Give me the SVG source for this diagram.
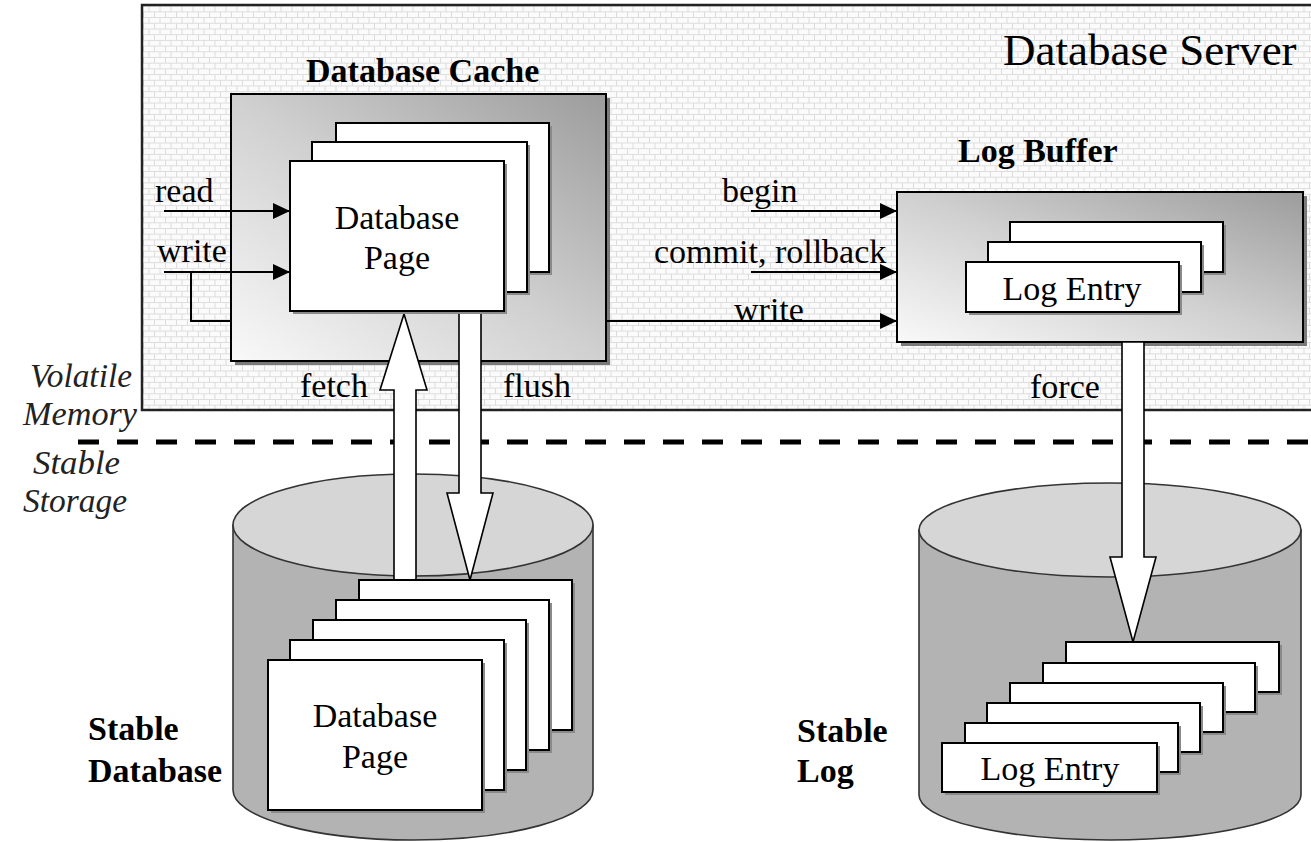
<svg xmlns="http://www.w3.org/2000/svg" width="1311" height="842" viewBox="0 0 1311 842">
<style>
  text { font-family: "Liberation Serif", "Times New Roman", serif; fill: #000; }
  .lbl { font-size: 34px; }
  .bold { font-size: 34px; font-weight: bold; }
  .ital { font-size: 33px; font-style: italic; fill: #222; }
  .page { fill: #fff; stroke: #000; stroke-width: 2; }
  .shadow { fill: #8a8a8a; }
  .conn { fill: none; stroke: #000; stroke-width: 2; }
  .hollow { fill: #fff; stroke: #000; stroke-width: 1.6; stroke-linejoin: miter; }
  .cylbody { fill: #b3b3b3; stroke: #333; stroke-width: 1.6; }
  .cyltop { fill: #d6d6d6; stroke: #333; stroke-width: 1.6; }
</style>
<defs>
  <pattern id="brick" width="22" height="11.4" patternUnits="userSpaceOnUse">
    <rect width="22" height="11.4" fill="#fbfbfb"/>
    <path d="M0 0.5H22M0 6.2H22M0.5 0.5V6.2M11.5 0.5V6.2M6 6.2V11.4M17 6.2V11.4" stroke="#dcdcdc" stroke-width="1" fill="none"/>
  </pattern>
  <linearGradient id="boxgrad" x1="0" y1="1" x2="1" y2="0">
    <stop offset="0" stop-color="#f9f9f9"/>
    <stop offset="0.5" stop-color="#d0d0d0"/>
    <stop offset="1" stop-color="#9c9c9c"/>
  </linearGradient>
  <marker id="arr" markerUnits="userSpaceOnUse" markerWidth="17" markerHeight="16" refX="17" refY="8" orient="auto">
    <path d="M0,0 L17,8 L0,16 Z" fill="#000"/>
  </marker>
</defs>

<g id="database-server">
  <rect x="142" y="5" width="1190" height="405" fill="url(#brick)" stroke="#222" stroke-width="2.5"/>
  <text x="1003" y="65" style="font-size:45px">Database Server</text>
</g>

<g id="divider">
  <line x1="78" y1="442" x2="1311" y2="442" stroke="#000" stroke-width="5" stroke-dasharray="21 18"/>
</g>

<g id="side-labels">
  <text class="ital" x="30" y="387" textLength="102" lengthAdjust="spacingAndGlyphs">Volatile</text>
  <text class="ital" x="23" y="425" textLength="114" lengthAdjust="spacingAndGlyphs">Memory</text>
  <text class="ital" x="33" y="474" textLength="87" lengthAdjust="spacingAndGlyphs">Stable</text>
  <text class="ital" x="23" y="512" textLength="104" lengthAdjust="spacingAndGlyphs">Storage</text>
</g>

<g id="stable-database-cylinder">
  <path class="cylbody" d="M233,525 L233,790 A180,50 0 0 0 593,790 L593,525 Z"/>
  <ellipse class="cyltop" cx="413" cy="525" rx="180" ry="51"/>
</g>

<g id="stable-log-cylinder">
  <path class="cylbody" d="M919,530 L919,795 A191,45 0 0 0 1301,795 L1301,530 Z"/>
  <ellipse class="cyltop" cx="1110" cy="530" rx="191" ry="47"/>
</g>

<g id="database-cache">
  <rect x="235" y="98" width="375" height="267" fill="#7a7a7a"/>
  <rect x="231" y="94" width="375" height="267" fill="url(#boxgrad)" stroke="#000" stroke-width="2"/>
  <text class="bold" x="306" y="82">Database Cache</text>
</g>

<g id="log-buffer">
  <rect x="901" y="196" width="406" height="150" fill="#7a7a7a"/>
  <rect x="897" y="192" width="406" height="150" fill="url(#boxgrad)" stroke="#000" stroke-width="2"/>
  <text class="bold" x="958" y="162">Log Buffer</text>
</g>

<g id="connectors">
  <line class="conn" x1="164" y1="211" x2="290" y2="211" marker-end="url(#arr)"/>
  <line class="conn" x1="164" y1="272" x2="290" y2="272" marker-end="url(#arr)"/>
  <polyline class="conn" points="191,272 191,321 231,321"/>
  <line class="conn" x1="607" y1="321" x2="897" y2="321" marker-end="url(#arr)"/>
  <line class="conn" x1="751" y1="211" x2="897" y2="211" marker-end="url(#arr)"/>
  <line class="conn" x1="751" y1="272" x2="897" y2="272" marker-end="url(#arr)"/>
</g>

<g id="hollow-arrows">
  <polygon class="hollow" points="394,580 394,390 380,390 404,314 427,390 416,390 416,580"/>
  <polygon class="hollow" points="459,300 481,300 481,493 493,493 470,580 447,493 459,493"/>
  <polygon class="hollow" points="1122,342 1144,342 1144,557 1156,557 1133,642 1110,557 1122,557"/>
</g>

<g id="cache-pages">
  <rect class="shadow" x="339" y="126" width="213" height="149"/>
  <rect class="page" x="336" y="123" width="213" height="149"/>
  <rect class="shadow" x="315" y="145" width="215" height="150"/>
  <rect class="page" x="312" y="142" width="215" height="150"/>
  <rect class="shadow" x="293" y="164" width="214" height="150"/>
  <rect class="page" x="290" y="161" width="214" height="150"/>
  <text class="lbl" x="397" y="229" text-anchor="middle">Database</text>
  <text class="lbl" x="397" y="269" text-anchor="middle">Page</text>
</g>

<g id="log-buffer-entries">
  <rect class="shadow" x="1013" y="225" width="213" height="50"/>
  <rect class="page" x="1010" y="222" width="213" height="50"/>
  <rect class="shadow" x="991" y="245" width="213" height="50"/>
  <rect class="page" x="988" y="242" width="213" height="50"/>
  <rect class="shadow" x="969" y="265" width="213" height="50"/>
  <rect class="page" x="966" y="262" width="213" height="50"/>
  <text class="lbl" x="1072" y="300" text-anchor="middle">Log Entry</text>
</g>

<g id="stable-database-pages">
  <rect class="shadow" x="362" y="583" width="213" height="150"/>
  <rect class="page" x="359" y="580" width="213" height="150"/>
  <rect class="shadow" x="339" y="603" width="213" height="150"/>
  <rect class="page" x="336" y="600" width="213" height="150"/>
  <rect class="shadow" x="316" y="623" width="213" height="150"/>
  <rect class="page" x="313" y="620" width="213" height="150"/>
  <rect class="shadow" x="293" y="643" width="214" height="150"/>
  <rect class="page" x="290" y="640" width="214" height="150"/>
  <rect class="shadow" x="271" y="663" width="214" height="150"/>
  <rect class="page" x="268" y="660" width="214" height="150"/>
  <text class="lbl" x="375" y="727" text-anchor="middle">Database</text>
  <text class="lbl" x="375" y="768" text-anchor="middle">Page</text>
</g>

<g id="stable-log-entries">
  <rect class="shadow" x="1069" y="645" width="213" height="50"/>
  <rect class="page" x="1066" y="642" width="213" height="50"/>
  <rect class="shadow" x="1046" y="666" width="212" height="49"/>
  <rect class="page" x="1043" y="663" width="212" height="49"/>
  <rect class="shadow" x="1013" y="686" width="213" height="49"/>
  <rect class="page" x="1010" y="683" width="213" height="49"/>
  <rect class="shadow" x="990" y="706" width="213" height="49"/>
  <rect class="page" x="987" y="703" width="213" height="49"/>
  <rect class="shadow" x="968" y="726" width="213" height="49"/>
  <rect class="page" x="965" y="723" width="213" height="49"/>
  <rect class="shadow" x="945" y="746" width="215" height="49"/>
  <rect class="page" x="942" y="743" width="215" height="49"/>
  <text class="lbl" x="1050" y="780" text-anchor="middle">Log Entry</text>
</g>

<g id="labels">
  <text class="lbl" x="155" y="202">read</text>
  <text class="lbl" x="157" y="262">write</text>
  <text class="lbl" x="722" y="202">begin</text>
  <text class="lbl" x="654" y="263">commit, rollback</text>
  <text class="lbl" x="734" y="321">write</text>
  <text class="lbl" x="300" y="397">fetch</text>
  <text class="lbl" x="503" y="397">flush</text>
  <text class="lbl" x="1030" y="398">force</text>
  <text class="bold" x="88" y="740">Stable</text>
  <text class="bold" x="88" y="782">Database</text>
  <text class="bold" x="797" y="742">Stable</text>
  <text class="bold" x="797" y="782">Log</text>
</g>
</svg>
